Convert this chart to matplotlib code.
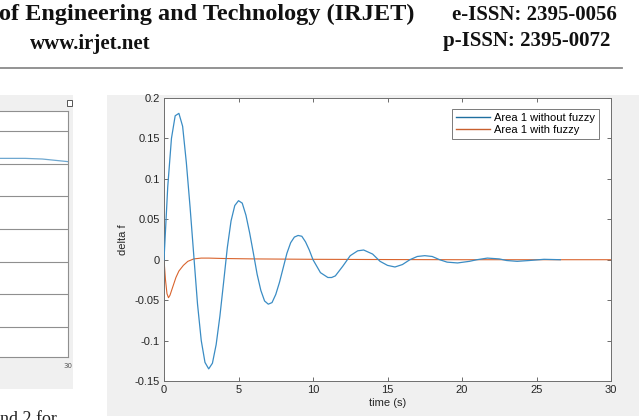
import numpy as np
import matplotlib.pyplot as plt
from matplotlib.patches import Rectangle

# -----------------------------------------------------
# DATA
# -----------------------------------------------------
t_nofuzzy = [0, 0.25, 0.5, 0.75, 1.0, 1.25, 1.5, 1.75, 2.0, 2.25, 2.5, 2.75,
             3.0, 3.25, 3.5, 3.75, 4.0, 4.25, 4.5, 4.75, 5.0, 5.25, 5.5, 5.75,
             6.0, 6.25, 6.5, 6.75, 7.0, 7.25, 7.5, 7.75, 8.0, 8.25, 8.5, 8.75,
             9.0, 9.25, 9.5, 9.75, 10.0, 10.5, 11.0, 11.25, 11.5, 12.0, 12.5,
             13.0, 13.4, 14.0, 14.5, 15.0, 15.5, 16.0, 16.5, 17.0, 17.5, 18.0,
             18.5, 19.0, 19.7, 20.5, 21.0, 21.7, 22.5, 23.0, 23.7, 24.5, 25.5,
             26.6]
df_nofuzzy = [0, 0.09, 0.15, 0.178, 0.181, 0.165, 0.12, 0.065, 0.005, -0.055,
              -0.1, -0.127, -0.135, -0.128, -0.105, -0.07, -0.028, 0.015,
              0.048, 0.067, 0.073, 0.07, 0.055, 0.033, 0.008, -0.018, -0.038,
              -0.051, -0.055, -0.053, -0.043, -0.028, -0.01, 0.008, 0.021,
              0.028, 0.03, 0.029, 0.022, 0.012, 0.0, -0.016, -0.022, -0.022,
              -0.02, -0.008, 0.005, 0.011, 0.012, 0.007, -0.002, -0.007,
              -0.009, -0.006, 0.0, 0.004, 0.005, 0.004, 0.0, -0.003, -0.004,
              -0.002, 0.0, 0.002, 0.001, -0.001, -0.002, -0.001, 0.0005, 0.0]

t_fuzzy = [0, 0.1, 0.2, 0.3, 0.4, 0.6, 0.8, 1.0, 1.3, 1.6, 2.0, 2.5, 3.0, 4.0,
           6.0, 10.0, 15.0, 20.0, 30.0]
df_fuzzy = [0, -0.025, -0.042, -0.047, -0.044, -0.033, -0.022, -0.014, -0.007,
            -0.002, 0.001, 0.002, 0.002, 0.0015, 0.001, 0.0005, 0.0002, 0.0, 0.0]

labels = ["Area 1 without fuzzy", "Area 1 with fuzzy"]
xticks = [0, 5, 10, 15, 20, 25, 30]
yticks = [-0.15, -0.1, -0.05, 0, 0.05, 0.1, 0.15, 0.2]
ytick_labels = ["-0.15", "-0.1", "-0.05", "0", "0.05", "0.1", "0.15", "0.2"]

# neighbouring (cropped) chart on the left of the page
t_left = [14, 20, 24, 27, 30]
v_left = [5.16, 5.16, 5.14, 5.1, 5.06]

header_title = "of Engineering and Technology (IRJET)"
header_eissn = "e-ISSN: 2395-0056"
header_web = "www.irjet.net"
header_pissn = "p-ISSN: 2395-0072"
body_text = "nd 2 for"

W, H = 639, 420


def fx(px):
    return px / W


def fy(py):
    return 1 - py / H


fig = plt.figure(figsize=(W / 100, H / 100), dpi=100)
fig.patch.set_facecolor("white")

# gray figure backgrounds of the screenshots
fig.patches.append(Rectangle((fx(107), fy(416)), fx(639) - fx(107), fy(95) - fy(416),
                             transform=fig.transFigure, facecolor="#f0f0f0",
                             edgecolor="none", zorder=-5))
fig.patches.append(Rectangle((fx(0), fy(389)), fx(73), fy(95) - fy(389),
                             transform=fig.transFigure, facecolor="#f0f0f0",
                             edgecolor="none", zorder=-5))
# small toolbar icon of the left figure
fig.patches.append(Rectangle((fx(67), fy(106)), fx(5), fy(100) - fy(106),
                             transform=fig.transFigure, facecolor="white",
                             edgecolor="#555555", lw=0.7, zorder=-4))

# -----------------------------------------------------
# HEADER
# -----------------------------------------------------
serif = ["Liberation Serif", "DejaVu Serif"]
fig.text(fx(-1), fy(20), header_title, fontsize=17.5, fontweight="bold",
         family=serif, color="#111111", va="baseline", ha="left")
fig.text(fx(617), fy(20), header_eissn, fontsize=15, fontweight="bold",
         family=serif, color="#111111", va="baseline", ha="right")
fig.text(fx(30), fy(49), header_web, fontsize=15, fontweight="bold",
         family=serif, color="#111111", va="baseline", ha="left")
fig.text(fx(610), fy(46), header_pissn, fontsize=15, fontweight="bold",
         family=serif, color="#111111", va="baseline", ha="right")
fig.add_artist(plt.Line2D([fx(0), fx(622)], [fy(68), fy(68)],
                          transform=fig.transFigure, color="#8a8a8a", lw=1.3))
fig.text(fx(0), fy(411), body_text, fontsize=13, family=serif,
         color="#222222", va="top", ha="left")

# -----------------------------------------------------
# LEFT (CROPPED) CHART
# -----------------------------------------------------
axl = fig.add_axes([fx(-60), fy(357), fx(68) - fx(-60), fy(111) - fy(357)])
axl.set_zorder(2)
axl.plot(t_left, v_left, color="#6fa8d0", lw=0.9)
axl.set_xlim(0, 30)
axl.set_ylim(-0.92, 6.61)
axl.set_yticks(range(7))
axl.set_xticks([30])
axl.set_xticklabels(["30"], fontsize=5, color="#555555")
axl.tick_params(axis="x", length=0, pad=4)
axl.tick_params(axis="y", labelleft=False, length=0)
axl.grid(axis="y", color="#8f8f8f", lw=0.8)
for s in axl.spines.values():
    s.set_color("#8f8f8f")
    s.set_linewidth(0.8)

# -----------------------------------------------------
# MAIN CHART
# -----------------------------------------------------
ax = fig.add_axes([fx(164), fy(381), fx(611) - fx(164), fy(98) - fy(381)])
ax.set_zorder(2)
ax.plot(t_nofuzzy, df_nofuzzy, color="#3a8cc4", lw=0.9, label=labels[0], zorder=3)
ax.plot(t_fuzzy, df_fuzzy, color="#d9642e", lw=0.8, label=labels[1], zorder=2)
ax.set_xlim(0, 30)
ax.set_ylim(-0.15, 0.2)
ax.set_xticks(xticks)
ax.set_yticks(yticks)
ax.set_yticklabels(ytick_labels)

sans = ["Liberation Sans", "DejaVu Sans"]
for lab in ax.get_xticklabels() + ax.get_yticklabels():
    lab.set_family(sans)
    lab.set_fontsize(8)
    lab.set_color("#262626")
ax.tick_params(direction="in", length=3, width=0.6, color="#555555",
               top=True, right=True, pad=3)
for s in ax.spines.values():
    s.set_color("#6e6e6e")
    s.set_linewidth(0.7)

ax.set_xlabel("time (s)", family=sans, fontsize=8, color="#262626", labelpad=2)
ax.set_ylabel("delta f", family=sans, fontsize=8, color="#262626", labelpad=5)

leg = ax.legend(loc="upper right", bbox_to_anchor=(0.973, 0.961),
                borderaxespad=0, fancybox=False, framealpha=1,
                edgecolor="#7a7a7a", prop={"family": sans, "size": 8},
                handlelength=3.1, handletextpad=0.35, borderpad=0.35,
                labelspacing=0.2)
leg.get_frame().set_linewidth(0.7)
for line, c in zip(leg.get_lines(), ["#1f6f9f", "#c8602e"]):
    line.set_color(c)
    line.set_linewidth(1.0)

fig.savefig("out.png", dpi=100)
